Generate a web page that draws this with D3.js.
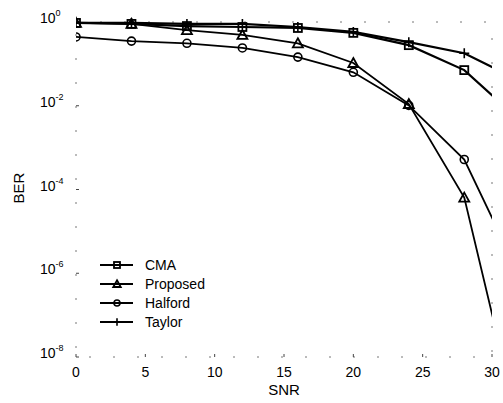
<!DOCTYPE html>
<html>
<head>
<meta charset="utf-8">
<script src="https://cdn.jsdelivr.net/npm/d3@7"></script>
<style>
body { margin: 0; background: #fff; }
text { font-family: "Liberation Sans", Arial, sans-serif; fill: #000; }
</style>
</head>
<body>
<svg id="chart" width="503" height="403"></svg>
<script>
// SNR points (last one sits past the axis and gets clipped)
var snr = [0, 4, 8, 12, 16, 20, 24, 28, 32];
var cma      = [0.95, 0.9, 0.8, 0.76, 0.72, 0.55, 0.28, 0.071, 0.0045];
var proposed = [0.95, 0.9, 0.64, 0.49, 0.31, 0.105, 0.011, 6.4e-5, 1.8e-10];
var halford  = [0.44, 0.35, 0.31, 0.24, 0.145, 0.063, 0.0102, 5.2e-4, 8.7e-7];
var taylor   = [0.95, 0.95, 0.9, 0.9, 0.76, 0.58, 0.33, 0.18, 0.039];
var xTicks = [0, 5, 10, 15, 20, 25, 30];
var yExps = [0, -2, -4, -6, -8];
var seriesNames = ["CMA", "Proposed", "Halford", "Taylor"];
var markerTypes = ["square", "triangle", "circle", "plus"];

var svg = d3.select("#chart");
var pLeft = 76, pRight = 492, pTop = 22, pBottom = 357;

var x = d3.scaleLinear().domain([0, 30]).range([pLeft, pRight]);
var y = d3.scaleLog().domain([1e-8, 1]).range([pBottom, pTop]);

svg.append("defs").append("clipPath").attr("id", "clip")
    .append("rect").attr("x", pLeft).attr("y", pTop - 6)
    .attr("width", pRight - pLeft).attr("height", pBottom - pTop + 6);

// faded box, like the scan
svg.append("rect")
    .attr("x", pLeft).attr("y", pTop)
    .attr("width", pRight - pLeft).attr("height", pBottom - pTop)
    .attr("fill", "none").attr("stroke", "#777").attr("stroke-width", 1)
    .attr("stroke-dasharray", "2,22");

// x ticks
var xg = svg.append("g");
xTicks.forEach(function (t) {
    xg.append("line").attr("x1", x(t)).attr("x2", x(t))
        .attr("y1", pBottom).attr("y2", pBottom - 3)
        .attr("stroke", "#444").attr("stroke-width", 1);
    xg.append("text").attr("x", x(t)).attr("y", 377)
        .attr("text-anchor", "middle").attr("font-size", 14).text(t);
});

// y ticks
var yg = svg.append("g");
yExps.forEach(function (e) {
    var yy = y(Math.pow(10, e));
    yg.append("line").attr("x1", pLeft).attr("x2", pLeft + 3)
        .attr("y1", yy).attr("y2", yy)
        .attr("stroke", "#444").attr("stroke-width", 1);
    var t = yg.append("text").attr("x", 40).attr("y", yy + 1).attr("font-size", 14);
    t.append("tspan").text("10");
    t.append("tspan").attr("dy", -7).attr("font-size", 9).text(e);
});

svg.append("text").attr("x", x(15)).attr("y", 395)
    .attr("text-anchor", "middle").attr("font-size", 15).text("SNR");
svg.append("text").attr("transform", "translate(24,188) rotate(-90)")
    .attr("text-anchor", "middle").attr("font-size", 15).text("BER");

var line = d3.line()
    .x(function (d, i) { return x(snr[i]); })
    .y(function (d) { return y(d); });

function drawMarker(g, type, cx, cy, s) {
    if (type === "square") {
        g.append("rect").attr("x", cx - 4 * s).attr("y", cy - 4 * s)
            .attr("width", 8 * s).attr("height", 8 * s)
            .attr("fill", "none").attr("stroke", "#000").attr("stroke-width", 1.8);
    } else if (type === "triangle") {
        g.append("path")
            .attr("d", "M" + cx + "," + (cy - 5 * s) + "L" + (cx + 5 * s) + "," + (cy + 4 * s) + "L" + (cx - 5 * s) + "," + (cy + 4 * s) + "Z")
            .attr("fill", "none").attr("stroke", "#000").attr("stroke-width", 1.8);
    } else if (type === "circle") {
        g.append("circle").attr("cx", cx).attr("cy", cy).attr("r", 4 * s)
            .attr("fill", "none").attr("stroke", "#000").attr("stroke-width", 1.6);
    } else {
        g.append("path")
            .attr("d", "M" + (cx - 5 * s) + "," + cy + "H" + (cx + 5 * s) + "M" + cx + "," + (cy - 5 * s) + "V" + (cy + 5 * s))
            .attr("stroke", "#000").attr("stroke-width", 1.6);
    }
}

var allSeries = [cma, proposed, halford, taylor];
var plot = svg.append("g").attr("clip-path", "url(#clip)");
allSeries.forEach(function (vals, k) {
    plot.append("path").datum(vals)
        .attr("d", line)
        .attr("fill", "none").attr("stroke", "#000")
        .attr("stroke-width", k === 0 || k === 3 ? 2.2 : 1.8);
    var mg = plot.append("g");
    vals.forEach(function (v, i) {
        if (snr[i] <= 28) drawMarker(mg, markerTypes[k], x(snr[i]), y(v), 1);
    });
});

// legend
var legend = svg.append("g");
seriesNames.forEach(function (name, k) {
    var ly = 265 + k * 19;
    legend.append("line").attr("x1", 100).attr("x2", 133)
        .attr("y1", ly).attr("y2", ly)
        .attr("stroke", "#000").attr("stroke-width", 1.8);
    drawMarker(legend, markerTypes[k], 117, ly, 0.75);
    legend.append("text").attr("x", 145).attr("y", ly + 5)
        .attr("font-size", 14).text(name);
});
</script>
</body>
</html>
